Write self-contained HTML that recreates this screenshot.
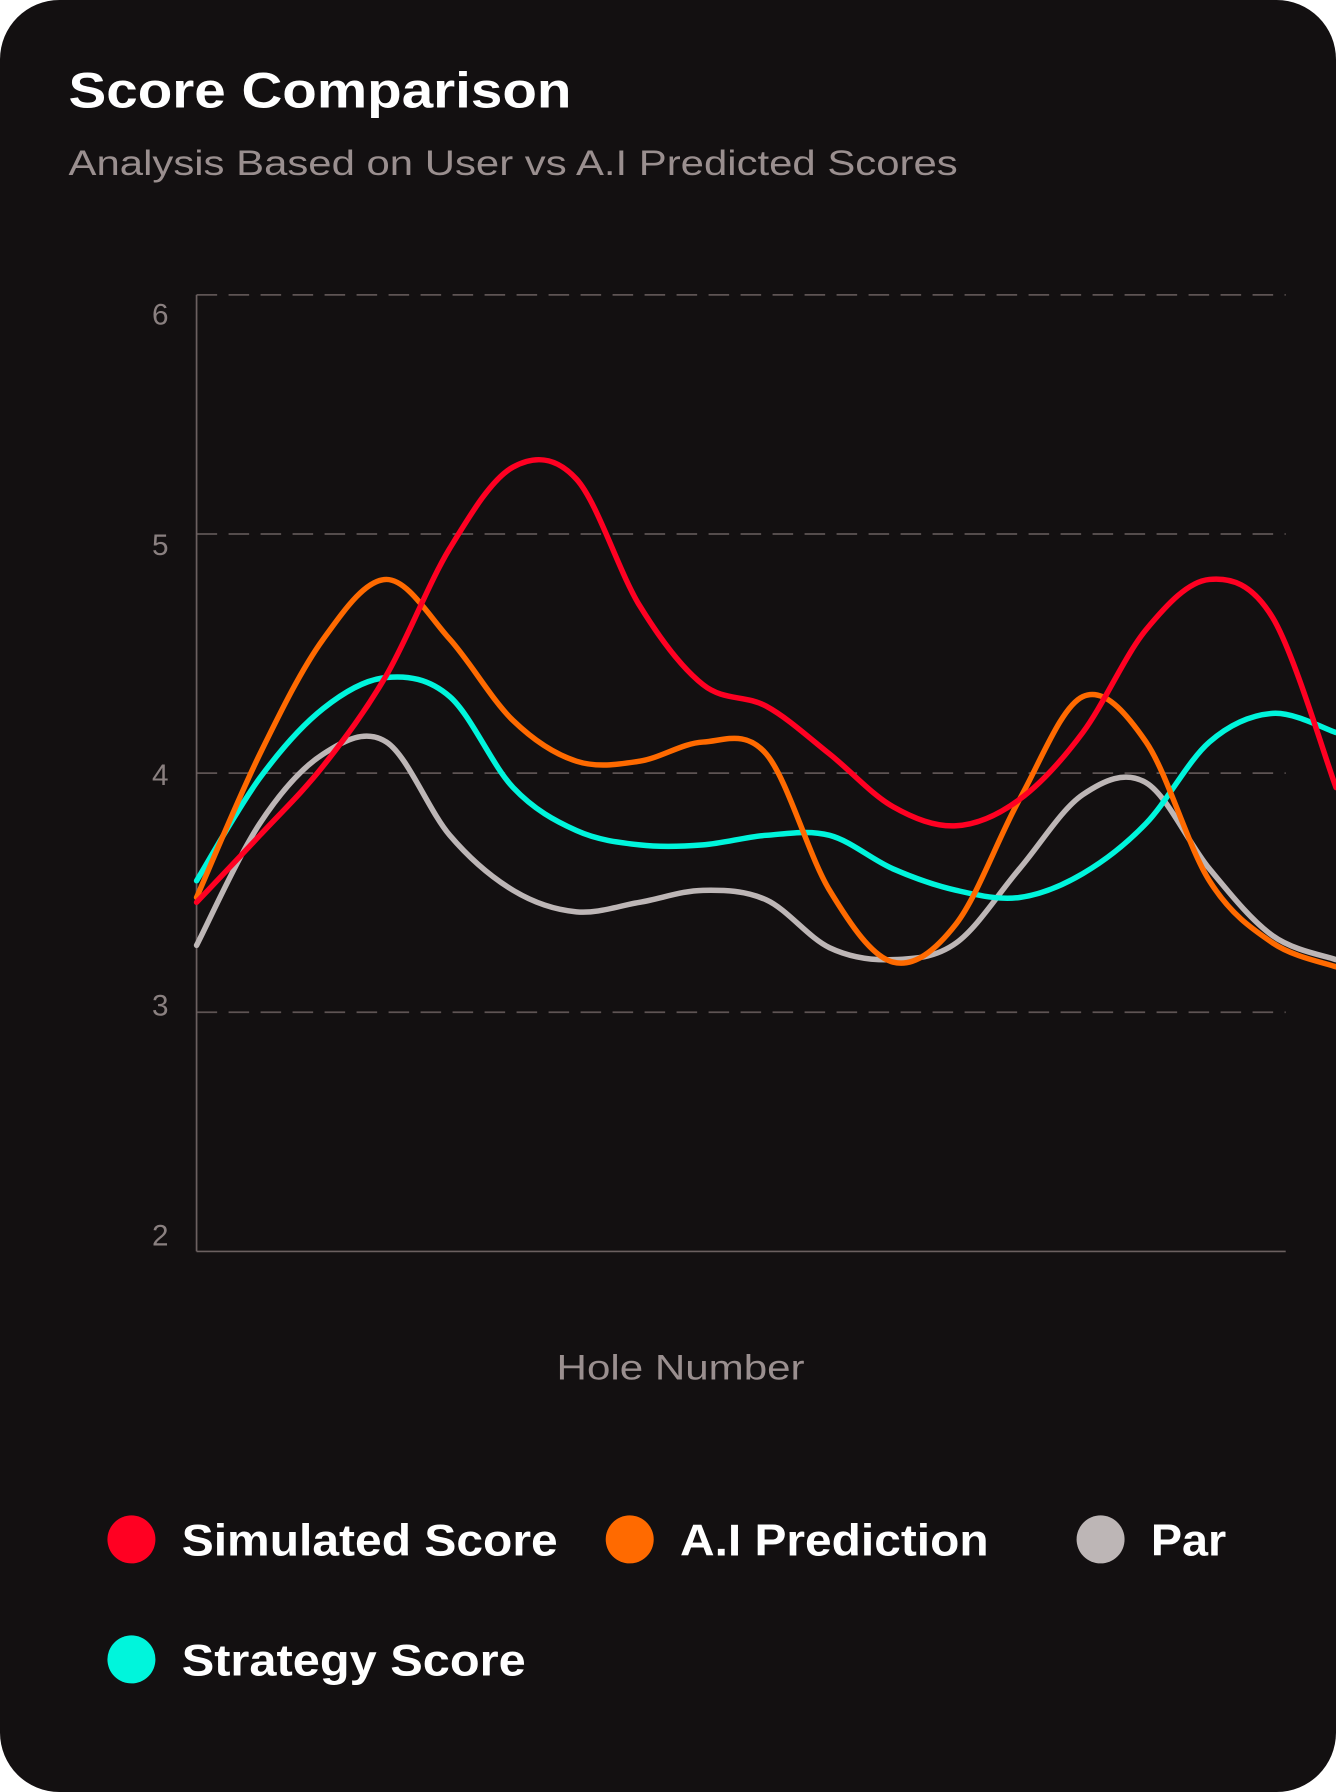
<!DOCTYPE html>
<html><head><meta charset="utf-8"><style>
html,body{margin:0;padding:0;background:#fff;}
svg{display:block;}
text{font-family:"Liberation Sans",sans-serif;}
</style></head><body>
<svg id="chart" width="1336" height="1792" viewBox="0 0 1169 1568" xmlns="http://www.w3.org/2000/svg">
<rect x="0" y="0" width="1169" height="1568" rx="52" fill="#131011"/>
<text x="60" y="94" font-size="44" font-weight="bold" fill="#ffffff" textLength="440" lengthAdjust="spacingAndGlyphs">Score Comparison</text>
<text x="60" y="153" font-size="31" fill="#9a8f8f" textLength="778" lengthAdjust="spacingAndGlyphs">Analysis Based on User vs A.I Predicted Scores</text>
<g id="grid"></g>
<g id="lines"></g>
<text x="487" y="1207" font-size="31" fill="#9a8f8f" textLength="217" lengthAdjust="spacingAndGlyphs">Hole Number</text>
<g>
<circle cx="115" cy="1347" r="21" fill="#ff0022"/>
<text x="159" y="1361" font-size="39" font-weight="bold" fill="#fff" textLength="329" lengthAdjust="spacingAndGlyphs">Simulated Score</text>
<circle cx="551" cy="1347" r="21" fill="#ff6a00"/>
<text x="595" y="1361" font-size="39" font-weight="bold" fill="#fff" textLength="270" lengthAdjust="spacingAndGlyphs">A.I Prediction</text>
<circle cx="963" cy="1347" r="21" fill="#bdb6b6"/>
<text x="1007" y="1361" font-size="39" font-weight="bold" fill="#fff" textLength="66" lengthAdjust="spacingAndGlyphs">Par</text>
<circle cx="115" cy="1452" r="21" fill="#00f5dc"/>
<text x="159" y="1466" font-size="39" font-weight="bold" fill="#fff" textLength="301" lengthAdjust="spacingAndGlyphs">Strategy Score</text>
</g>
</svg>
<script>
const yTicks = [2, 3, 4, 5, 6];
const simulated = [3.46,3.74,4.03,4.41,4.94,5.28,5.23,4.70,4.37,4.28,4.08,3.86,3.78,3.89,4.17,4.60,4.81,4.65,3.94];
const aiPrediction = [3.48,4.08,4.56,4.81,4.56,4.22,4.05,4.05,4.13,4.08,3.51,3.21,3.37,3.89,4.32,4.13,3.55,3.29,3.19];
const par = [3.28,3.79,4.08,4.13,3.74,3.51,3.42,3.46,3.51,3.47,3.27,3.22,3.29,3.60,3.91,3.96,3.60,3.32,3.22];
const strategy = [3.55,3.98,4.27,4.40,4.32,3.94,3.76,3.70,3.70,3.74,3.74,3.60,3.51,3.48,3.58,3.79,4.13,4.25,4.17];

const NS = "http://www.w3.org/2000/svg";
const x0 = 172, xEnd = 1169, plotRight = 1125, yTop = 258, yBot = 1095;
const yScale = v => yBot - (v - 2) / 4 * (yBot - yTop);
const labelScale = v => 275 + (6 - v) * 201.5;
const xScale = i => x0 + i * (xEnd - x0) / (simulated.length - 1);

const grid = document.getElementById('grid');
yTicks.forEach(t => {
  const y = yScale(t);
  if (t > 2) {
    const l = document.createElementNS(NS, 'line');
    
    
    l.setAttribute('x1', x0); l.setAttribute('x2', plotRight);
    l.setAttribute('y1', y); l.setAttribute('y2', y);
    l.setAttribute('stroke', '#5e5454'); l.setAttribute('stroke-width', '1.5');
    l.setAttribute('stroke-dasharray', '18 10');
    grid.appendChild(l);
  }
  const tk = document.createElementNS(NS, 'text');
  
  
  tk.setAttribute('x', 133); tk.setAttribute('y', labelScale(t) + 9);
  tk.setAttribute('font-size', '26'); tk.setAttribute('fill', '#8a8080');
  tk.textContent = t;
  grid.appendChild(tk);
});
const ya = document.createElementNS(NS, 'line');


ya.setAttribute('x1', x0); ya.setAttribute('x2', x0); ya.setAttribute('y1', yTop); ya.setAttribute('y2', yBot);
ya.setAttribute('stroke', '#6b6060'); ya.setAttribute('stroke-width', '1.5');
grid.appendChild(ya);
const xa = document.createElementNS(NS, 'line');


xa.setAttribute('x1', x0); xa.setAttribute('x2', plotRight); xa.setAttribute('y1', yBot); xa.setAttribute('y2', yBot);
xa.setAttribute('stroke', '#6b6060'); xa.setAttribute('stroke-width', '1.5');
grid.appendChild(xa);

function smoothPath(vals) {
  const p = vals.map((v, i) => [xScale(i), yScale(v)]);
  let d = 'M' + p[0][0] + ',' + p[0][1];
  for (let i = 0; i < p.length - 1; i++) {
    const a = p[i - 1] || p[i], b = p[i], c = p[i + 1], e = p[i + 2] || c;
    const c1 = [b[0] + (c[0] - a[0]) / 6, b[1] + (c[1] - a[1]) / 6];
    const c2 = [c[0] - (e[0] - b[0]) / 6, c[1] - (e[1] - b[1]) / 6];
    d += ' C' + c1.join(',') + ' ' + c2.join(',') + ' ' + c.join(',');
  }
  return d;
}
const lines = document.getElementById('lines');
[[par, '#bdb6b6', 'line-par'], [strategy, '#00f5dc', 'line-strategy'], [aiPrediction, '#ff6a00', 'line-ai-prediction'], [simulated, '#ff0022', 'line-simulated']].forEach(s => {
  const path = document.createElementNS(NS, 'path');
  
  
  path.setAttribute('d', smoothPath(s[0]));
  path.setAttribute('fill', 'none');
  path.setAttribute('stroke', s[1]);
  path.setAttribute('stroke-width', '4.8');
  path.setAttribute('stroke-linecap', 'round');
  lines.appendChild(path);
});
</script>
</body></html>
